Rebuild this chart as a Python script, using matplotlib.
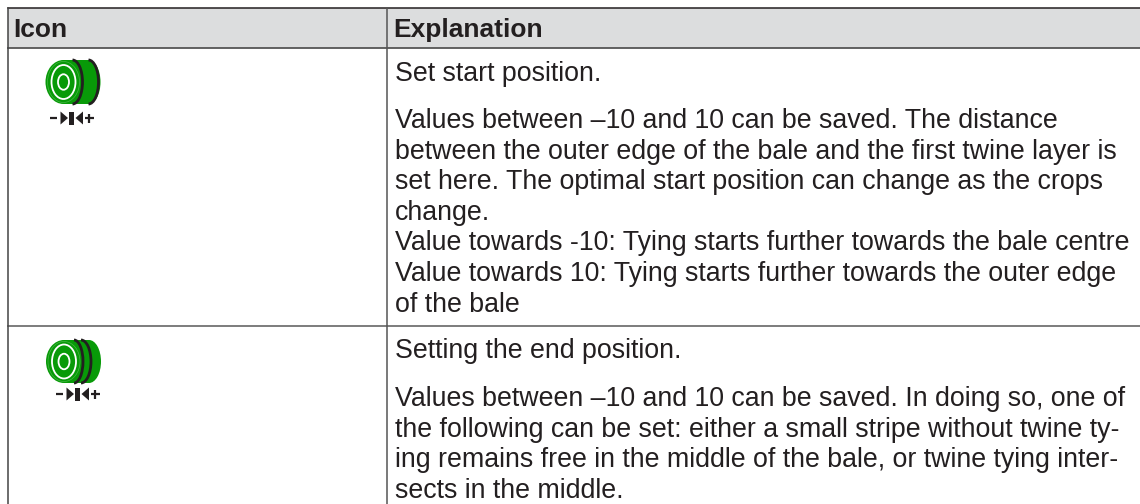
import matplotlib
matplotlib.use('Agg')
import matplotlib.pyplot as plt
from matplotlib.patches import Ellipse, Rectangle, Arc, Polygon

headers = ["Icon", "Explanation"]
row1_lines = [
    "Set start position.",
    "Values between –10 and 10 can be saved. The distance",
    "between the outer edge of the bale and the first twine layer is",
    "set here. The optimal start position can change as the crops",
    "change.",
    "Value towards -10: Tying starts further towards the bale centre",
    "Value towards 10: Tying starts further towards the outer edge",
    "of the bale",
]
row1_y = [81, 128, 158.6, 189.2, 219.8, 250.4, 281, 311.6]
row2_lines = [
    "Setting the end position.",
    "Values between –10 and 10 can be saved. In doing so, one of",
    "the following can be set: either a small stripe without twine ty-",
    "ing remains free in the middle of the bale, or twine tying inter-",
    "sects in the middle.",
]
row2_y = [358, 406, 436.6, 467.2, 497.8]

GREEN = '#089a08'
DARK = '#231f20'
plt.rcParams['font.family'] = ['Liberation Sans', 'DejaVu Sans']

fig = plt.figure(figsize=(11.4, 5.04), dpi=100)
ax = fig.add_axes([0, 0, 1, 1])
ax.set_xlim(0, 1140)
ax.set_ylim(504, 0)
ax.axis('off')


def draw_icon(ax, cx, cy, ry, ring_ry, arcs):
    # back of the roll, then the dark bands, then the front face
    ax.add_patch(Ellipse((cx + 25, cy), 24, 2 * ry, fc=GREEN, ec='none'))
    ax.add_patch(Rectangle((cx, cy - ry), 25, 2 * ry, fc=GREEN, ec='none'))
    ax.add_patch(Ellipse((cx, cy), 36, 2 * ry, fc=GREEN, ec='none'))
    for off, rx in arcs:
        ax.add_patch(Arc((cx + off, cy), 2 * rx, 2 * ry, theta1=-90, theta2=90, ec=DARK, lw=2))
    ax.add_patch(Ellipse((cx, cy), 32, 2 * ry - 3, fc='none', ec='#45b545', lw=0.5))
    ax.add_patch(Ellipse((cx, cy), 24, 2 * ring_ry, fc='none', ec='white', lw=1.3))
    ax.add_patch(Ellipse((cx, cy), 11, 15.5, fc='none', ec='white', lw=1.3))


def draw_symbol(ax, cx, cy):
    ax.plot([cx - 21.5, cx - 14.5], [cy, cy], color=DARK, lw=1.6, solid_capstyle='butt')
    ax.plot([cx + 13, cx + 22], [cy, cy], color=DARK, lw=1.6, solid_capstyle='butt')
    ax.plot([cx + 17.5, cx + 17.5], [cy - 4.5, cy + 4.5], color=DARK, lw=1.6, solid_capstyle='butt')
    ax.add_patch(Polygon([[cx - 11, cy - 6.5], [cx - 3.5, cy], [cx - 11, cy + 6.5]], fc=DARK, ec='none'))
    ax.add_patch(Polygon([[cx + 11.5, cy - 6.5], [cx + 4, cy], [cx + 11.5, cy + 6.5]], fc=DARK, ec='none'))
    ax.add_patch(Rectangle((cx - 2.5, cy - 6.5), 5, 13, fc=DARK, ec='none'))


# header band and table rules
ax.add_patch(Rectangle((8, 8), 1132, 40, fc='#dcddde', ec='none'))
ax.plot([8, 1140], [8, 8], color=DARK, lw=1.1)
ax.plot([8, 1140], [48, 48], color='#555555', lw=1.3)
ax.plot([8, 1140], [325.7, 325.7], color='#666666', lw=1.2)
ax.plot([8, 8], [8, 504], color='#444444', lw=1.1)
ax.plot([386.7, 386.7], [8, 504], color='#555555', lw=1.1)

ax.text(13, 37, headers[0], fontsize=19, fontweight='bold', color=DARK, va='baseline')
ax.text(393, 37, headers[1], fontsize=19, fontweight='bold', color=DARK, va='baseline')

for line, y in zip(row1_lines, row1_y):
    ax.text(395, y, line, fontsize=19.3, color=DARK, va='baseline')
for line, y in zip(row2_lines, row2_y):
    ax.text(395, y, line, fontsize=19.3, color=DARK, va='baseline')

draw_icon(ax, 63.5, 82, 22, 17, [(9, 10), (25, 10)])
draw_symbol(ax, 71.5, 118)
draw_icon(ax, 64, 361.5, 21.5, 17, [(10, 9), (17, 10)])
draw_symbol(ax, 77.5, 394)

fig.savefig('out.png', dpi=100)
